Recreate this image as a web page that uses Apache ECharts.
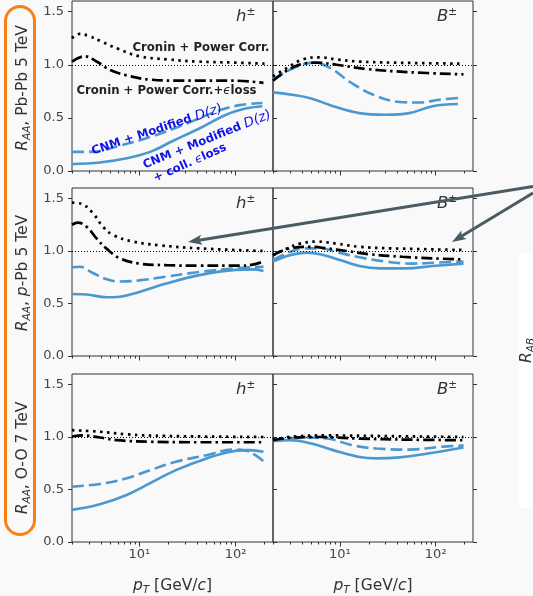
<!DOCTYPE html>
<html><head><meta charset="utf-8">
<style>html,body{margin:0;padding:0;background:#f9f9f9;}#c{width:533px;height:596px;}</style>
<script src="https://cdn.jsdelivr.net/npm/echarts@6/dist/echarts.min.js"></script>
</head><body><div id="c"></div>
<script>
// ---- tick data ----
const xTickValues = [10, 100];
const xTickLabels = ['10¹', '10²'];
const xMinorValues = [2, 3, 4, 5, 6, 7, 8, 9, 20, 30, 40, 50, 60, 70, 80, 90, 200];
const yTickValues = [0, 0.5, 1.0, 1.5];

// ---- Pb-Pb 5 TeV, h± ----
const pbpbH_dot_x = [2, 2.4, 3, 4, 6, 10, 20, 40, 100, 200];
const pbpbH_dot_y = [1.25, 1.29, 1.27, 1.22, 1.15, 1.08, 1.05, 1.03, 1.02, 1.01];
const pbpbH_dd_x = [2, 2.7, 3.6, 5, 7.4, 13, 28, 94, 195];
const pbpbH_dd_y = [1.03, 1.08, 1.03, 0.95, 0.90, 0.86, 0.85, 0.85, 0.83];
const pbpbH_ds_x = [2, 3.3, 5.8, 13, 28, 63, 110, 190];
const pbpbH_ds_y = [0.18, 0.18, 0.23, 0.32, 0.43, 0.56, 0.62, 0.64];
const pbpbH_sl_x = [2, 3.9, 7.4, 13, 22, 42, 80, 130, 190];
const pbpbH_sl_y = [0.065, 0.08, 0.12, 0.18, 0.28, 0.40, 0.53, 0.59, 0.61];

// ---- Pb-Pb 5 TeV, B± ----
const pbpbB_dot_x = [2, 2.8, 4.1, 6.2, 9.2, 16, 35, 195];
const pbpbB_dot_y = [0.89, 0.97, 1.05, 1.07, 1.05, 1.03, 1.02, 1.01];
const pbpbB_dd_x = [2, 3.3, 5.7, 9.2, 19, 53, 195];
const pbpbB_dd_y = [0.85, 0.98, 1.02, 1.0, 0.96, 0.93, 0.91];
const pbpbB_ds_x = [2, 3.3, 5.3, 7.9, 12.6, 22, 42, 67, 109, 182];
const pbpbB_ds_y = [0.86, 0.97, 1.02, 0.97, 0.84, 0.72, 0.65, 0.645, 0.67, 0.69];
const pbpbB_sl_x = [2, 3, 4.9, 8.5, 16, 30, 53, 93, 170];
const pbpbB_sl_y = [0.74, 0.72, 0.685, 0.61, 0.545, 0.53, 0.545, 0.61, 0.63];

// ---- p-Pb 5 TeV, h± ----
const ppbH_dot_x = [2, 2.5, 3.3, 4.2, 5.4, 8.6, 16, 42, 195];
const ppbH_dot_y = [1.46, 1.45, 1.36, 1.23, 1.15, 1.09, 1.055, 1.025, 1.0];
const ppbH_dd_x = [2, 2.3, 2.85, 3.6, 4.6, 6.3, 10, 19, 42, 110, 150, 195];
const ppbH_dd_y = [1.25, 1.27, 1.23, 1.12, 1.02, 0.93, 0.88, 0.865, 0.86, 0.86, 0.87, 0.90];
const ppbH_ds_x = [2, 2.4, 3.3, 4.6, 6.3, 10, 19, 42, 100, 195];
const ppbH_ds_y = [0.845, 0.85, 0.79, 0.73, 0.71, 0.72, 0.755, 0.80, 0.835, 0.85];
const ppbH_sl_x = [2, 2.85, 4.6, 6.3, 10, 19, 42, 100, 160, 195];
const ppbH_sl_y = [0.59, 0.585, 0.56, 0.565, 0.61, 0.69, 0.77, 0.82, 0.825, 0.81];

// ---- p-Pb 5 TeV, B± ----
const ppbB_dot_x = [2, 2.8, 3.8, 5.7, 9.2, 16, 35, 195];
const ppbB_dot_y = [0.96, 1.025, 1.07, 1.09, 1.07, 1.04, 1.025, 1.01];
const ppbB_dd_x = [2, 3, 4.9, 7.3, 11.7, 20, 45, 93, 195];
const ppbB_dd_y = [0.96, 1.025, 1.04, 1.025, 1.0, 0.97, 0.945, 0.93, 0.92];
const ppbB_ds_x = [2, 3, 4.2, 6.2, 9.2, 16, 30, 57, 109, 195];
const ppbB_ds_y = [0.915, 0.99, 1.025, 1.025, 0.99, 0.94, 0.90, 0.88, 0.89, 0.90];
const ppbB_sl_x = [2, 3, 4.5, 6.2, 10, 16, 26, 49, 93, 195];
const ppbB_sl_y = [0.90, 0.96, 0.985, 0.97, 0.915, 0.857, 0.835, 0.835, 0.857, 0.88];

// ---- O-O 7 TeV, h± ----
const ooH_dot_x = [2, 3.9, 7.4, 19, 195];
const ooH_dot_y = [1.065, 1.05, 1.025, 1.01, 1.0];
const ooH_dd_x = [2, 2.6, 3.9, 5.8, 13, 42, 195];
const ooH_dd_y = [1.005, 1.015, 0.995, 0.97, 0.955, 0.95, 0.95];
const ooH_ds_x = [2, 3.9, 7.4, 13, 24, 50, 94, 130, 165, 195];
const ooH_ds_y = [0.527, 0.553, 0.607, 0.685, 0.764, 0.827, 0.88, 0.87, 0.82, 0.77];
const ooH_sl_x = [2, 3.9, 7.4, 13, 24, 50, 94, 140, 195];
const ooH_sl_y = [0.306, 0.36, 0.448, 0.56, 0.685, 0.796, 0.865, 0.875, 0.86];

// ---- O-O 7 TeV, B± ----
const ooB_dot_x = [2, 3.3, 7.3, 35, 195];
const ooB_dot_y = [0.975, 1.005, 1.015, 1.008, 1.0];
const ooB_dd_x = [2, 3.3, 6, 16, 50, 195];
const ooB_dd_y = [0.97, 0.995, 1.0, 0.985, 0.975, 0.97];
const ooB_ds_x = [2, 3.8, 7.3, 13.7, 24, 53, 109, 195];
const ooB_ds_y = [0.96, 0.995, 0.985, 0.92, 0.89, 0.88, 0.905, 0.92];
const ooB_sl_x = [2, 3, 4.9, 8.5, 16, 24, 42, 93, 195];
const ooB_sl_y = [0.96, 0.97, 0.94, 0.875, 0.81, 0.796, 0.806, 0.85, 0.90];

const panelData = [
  [[pbpbH_dot_x, pbpbH_dot_y], [pbpbH_dd_x, pbpbH_dd_y], [pbpbH_ds_x, pbpbH_ds_y], [pbpbH_sl_x, pbpbH_sl_y]],
  [[pbpbB_dot_x, pbpbB_dot_y], [pbpbB_dd_x, pbpbB_dd_y], [pbpbB_ds_x, pbpbB_ds_y], [pbpbB_sl_x, pbpbB_sl_y]],
  [[ppbH_dot_x, ppbH_dot_y], [ppbH_dd_x, ppbH_dd_y], [ppbH_ds_x, ppbH_ds_y], [ppbH_sl_x, ppbH_sl_y]],
  [[ppbB_dot_x, ppbB_dot_y], [ppbB_dd_x, ppbB_dd_y], [ppbB_ds_x, ppbB_ds_y], [ppbB_sl_x, ppbB_sl_y]],
  [[ooH_dot_x, ooH_dot_y], [ooH_dd_x, ooH_dd_y], [ooH_ds_x, ooH_ds_y], [ooH_sl_x, ooH_sl_y]],
  [[ooB_dot_x, ooB_dot_y], [ooB_dd_x, ooB_dd_y], [ooB_ds_x, ooB_ds_y], [ooB_sl_x, ooB_sl_y]]
];

// ---- layout / style ----
const FONT = 'DejaVu Sans';
const X_MIN = Math.log10(2), X_MAX = Math.log10(245);
const COLS = [{left: 72, width: 201}, {left: 273, width: 200}];
const ROWS = [{top: 1, height: 170}, {top: 188, height: 168}, {top: 374, height: 168}];
const BLUE = '#4a98cf';
const lineStyles = [
  {color: '#000', width: 2.7, type: [2.5, 4.5]},
  {color: '#000', width: 2.7, type: [11, 4, 2.5, 4]},
  {color: BLUE, width: 2.6, type: [12, 5]},
  {color: BLUE, width: 2.6, type: 'solid'}
];

const grids = [], xAxes = [], yAxes = [], series = [];
const lg = v => Math.log10(v);
// main grids 0..5
for (let r = 0; r < 3; r++) {
  for (let c = 0; c < 2; c++) {
    const g = r * 2 + c;
    grids.push({left: COLS[c].left, width: COLS[c].width, top: ROWS[r].top, height: ROWS[r].height,
      show: true, borderColor: '#333', borderWidth: 1, backgroundColor: 'transparent'});
    xAxes.push({type: 'value', gridIndex: g, position: 'bottom', min: X_MIN, max: X_MAX,
      axisLine: {show: false}, splitLine: {show: false},
      axisTick: {show: true, customValues: xTickValues.map(lg), length: 4.5, lineStyle: {color: '#333', width: 1}},
      axisLabel: {show: r === 2, customValues: xTickValues.map(lg), margin: 6, fontSize: 13, color: '#444', fontFamily: FONT,
        formatter: v => { const i = xTickValues.findIndex(t => Math.abs(lg(t) - v) < 1e-6); return i >= 0 ? xTickLabels[i] : ''; }}
    });
  }
  // y axes: left panel (labels), right panel inner-left and outer-right
  const yBase = {type: 'value', min: 0, max: 1.6, interval: 0.5, axisLine: {show: false}, splitLine: {show: false}};
  yAxes.push(Object.assign({}, yBase, {gridIndex: r * 2, position: 'left',
    axisTick: {customValues: yTickValues, length: 4, lineStyle: {color: '#333'}},
    axisLabel: {customValues: yTickValues, formatter: v => v.toFixed(1), fontSize: 13, color: '#444', margin: 8, fontFamily: FONT}}));
  yAxes.push(Object.assign({}, yBase, {gridIndex: r * 2 + 1, position: 'left',
    axisTick: {customValues: yTickValues, inside: true, length: 4, lineStyle: {color: '#333'}},
    axisLabel: {show: false}}));
  yAxes.push(Object.assign({}, yBase, {gridIndex: r * 2 + 1, position: 'right',
    axisTick: {customValues: yTickValues, length: 4, lineStyle: {color: '#333'}},
    axisLabel: {show: false}}));
}
// overlay grids 6..11 carrying only the minor x ticks
for (let r = 0; r < 3; r++) {
  for (let c = 0; c < 2; c++) {
    const g = 6 + r * 2 + c;
    grids.push({left: COLS[c].left, width: COLS[c].width, top: ROWS[r].top, height: ROWS[r].height, show: false});
    xAxes.push({type: 'value', gridIndex: g, position: 'bottom', min: X_MIN, max: X_MAX,
      axisLine: {show: false}, splitLine: {show: false},
      axisTick: {show: true, customValues: xMinorValues.map(lg), length: 2.5, lineStyle: {color: '#333', width: 1}},
      axisLabel: {show: false}});
    yAxes.push({type: 'value', gridIndex: g, min: 0, max: 1.6, show: false});
  }
}

for (let g = 0; g < 6; g++) {
  const r = Math.floor(g / 2), c = g % 2;
  const yi = r * 3 + (c === 0 ? 0 : 1);
  // reference line R=1
  series.push({type: 'line', xAxisIndex: g, yAxisIndex: yi, data: [], silent: true,
    markLine: {symbol: 'none', silent: true, label: {show: false}, animation: false,
      lineStyle: {color: '#000', width: 1, type: [1, 2]}, data: [{yAxis: 1}]}});
  panelData[g].forEach((s, k) => {
    series.push({type: 'line', xAxisIndex: g, yAxisIndex: yi, showSymbol: false, smooth: 0.4,
      data: s[0].map((x, i) => [lg(x), s[1][i]]), lineStyle: lineStyles[k], z: 3 + (3 - k)});
  });
}

// ---- text helpers ----
const TXT = '#333';
const baseRich = {
  n: {fontFamily: FONT, fontSize: 15.5, fill: TXT, lineHeight: 20},
  i: {fontFamily: FONT, fontSize: 15.5, fill: TXT, fontStyle: 'italic', lineHeight: 20},
  sub: {fontFamily: FONT, fontSize: 10.5, fill: TXT, fontStyle: 'italic', lineHeight: 11, verticalAlign: 'bottom'},
  sup: {fontFamily: FONT, fontSize: 10.5, fill: TXT, lineHeight: 11, verticalAlign: 'top'},
  hi: {fontFamily: FONT, fontSize: 16.5, fill: TXT, fontStyle: 'italic', lineHeight: 20}
};
function rtext(x, y, text, opts) {
  return Object.assign({type: 'text', x: x, y: y, z: 50,
    style: {text: text, rich: baseRich, align: 'center', verticalAlign: 'middle', fontFamily: FONT, fontSize: 15, fill: TXT}}, opts || {});
}
const yNames = [
  '{i|R}{sub|AA}{n|, Pb-Pb 5 TeV}',
  '{i|R}{sub|AA}{n|, }{i|p}{n|-Pb 5 TeV}',
  '{i|R}{sub|AA}{n|, O-O 7 TeV}'
];
const yNameCenters = [88, 273, 458];
const hadronLabels = ['{hi|h}{sup|±}', '{hi|B}{sup|±}'];

const BT = '#1212ea';
const blueRich = {
  b: {fontFamily: FONT, fontSize: 11.7, fontWeight: 'bold', fill: BT, lineHeight: 16},
  d: {fontFamily: FONT, fontSize: 13.5, fontStyle: 'italic', fill: BT, lineHeight: 16},
  e: {fontFamily: FONT, fontSize: 12, fontStyle: 'italic', fill: BT, lineHeight: 16}
};
const blackRich = {
  b: {fontFamily: FONT, fontSize: 11.7, fontWeight: 'bold', fill: '#222', lineHeight: 16},
  e: {fontFamily: FONT, fontSize: 12, fontStyle: 'italic', fill: '#222', lineHeight: 16}
};
function anno(x, y, text, rich, deg) {
  return {type: 'text', x: x, y: y, rotation: deg * Math.PI / 180, z: 40,
    style: {text: text, rich: rich, align: 'center', verticalAlign: 'middle'}};
}
function arrow(x1, y1, x2, y2) {
  const dx = x2 - x1, dy = y2 - y1, L = Math.hypot(dx, dy), ux = dx / L, uy = dy / L;
  const hl = 14, hw = 5;
  const bx = x2 - ux * hl, by = y2 - uy * hl;
  const col = '#4b5b61';
  return [
    {type: 'line', z: 60, shape: {x1: x1, y1: y1, x2: bx + ux * 3, y2: by + uy * 3}, style: {stroke: col, lineWidth: 3}},
    {type: 'polygon', z: 60, shape: {points: [[x2, y2], [bx - uy * hw, by + ux * hw], [bx + ux * 3, by + uy * 3], [bx + uy * hw, by - ux * hw]]},
      style: {fill: col}}
  ];
}

const graphics = [
  {type: 'rect', z: 30, shape: {x: 5.5, y: 6.5, width: 29, height: 528, r: 15}, style: {fill: 'none', stroke: '#fb7f12', lineWidth: 3}},
  {type: 'rect', z: 1, shape: {x: 519, y: 253, width: 20, height: 255}, style: {fill: '#ffffff'}},
  rtext(527, 363, '', {rotation: Math.PI / 2, style: {text: '{i|R}{sub|AB}', rich: baseRich, align: 'left', verticalAlign: 'middle'}})
];
for (let r = 0; r < 3; r++) {
  graphics.push(rtext(23, yNameCenters[r], yNames[r], {rotation: Math.PI / 2}));
  graphics.push(rtext(236, ROWS[r].top + 16, '', {style: {text: hadronLabels[0], rich: baseRich, align: 'left', verticalAlign: 'middle'}}));
  graphics.push(rtext(437, ROWS[r].top + 16, '', {style: {text: hadronLabels[1], rich: baseRich, align: 'left', verticalAlign: 'middle'}}));
}
const xName = '{i|p}{sub|T}{n| [GeV/}{i|c}{n|]}';
graphics.push(rtext(172.5, 586, xName));
graphics.push(rtext(373, 586, xName));
graphics.push(anno(201, 48, '{b|Cronin + Power Corr.}', blackRich, 0));
graphics.push(anno(166.5, 91, '{b|Cronin + Power Corr.+}{e|ϵ}{b|loss}', blackRich, 0));
graphics.push(anno(157, 130, '{b|CNM + Modified }{d|D(z)}', blueRich, 18.5));
graphics.push(anno(207, 140, '{b|CNM + Modified }{d|D(z)}', blueRich, 22));
graphics.push(anno(190, 163, '{b|+ coll. }{e|ϵ}{b|loss}', blueRich, 24));
arrow(533, 186.5, 188, 242).forEach(e => graphics.push(e));
arrow(533, 193, 452, 242).forEach(e => graphics.push(e));

const chart = echarts.init(document.getElementById('c'), null, {renderer: 'canvas'});
chart.setOption({
  backgroundColor: '#f9f9f9',
  animation: false,
  grid: grids, xAxis: xAxes, yAxis: yAxes, series: series,
  graphic: graphics
});
</script></body></html>
